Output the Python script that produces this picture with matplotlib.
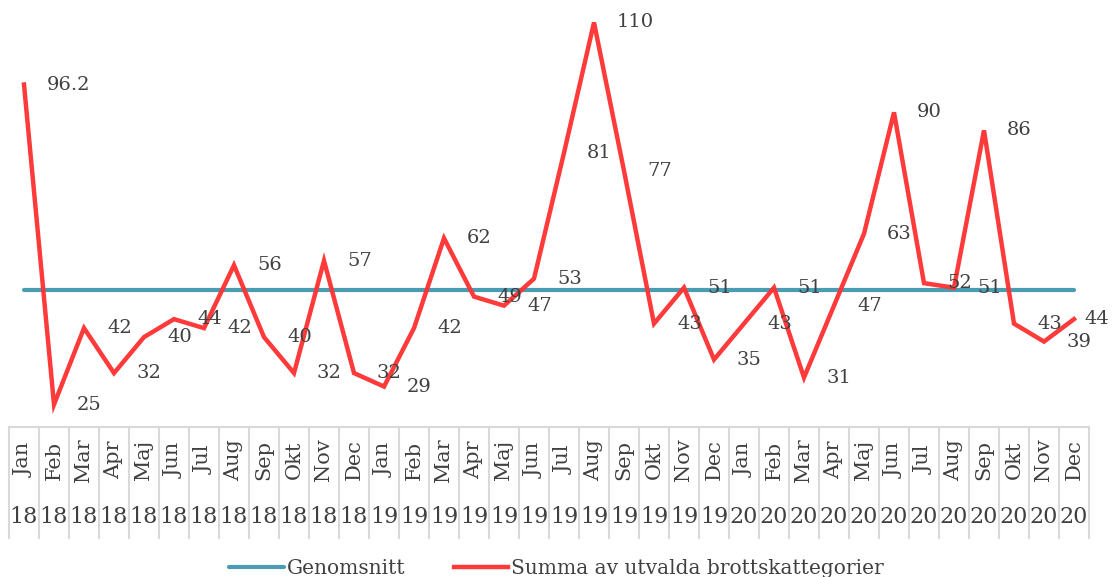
import matplotlib.pyplot as plt
import matplotlib.transforms as mtransforms

months = ["Jan", "Feb", "Mar", "Apr", "Maj", "Jun", "Jul", "Aug", "Sep", "Okt", "Nov", "Dec"] * 3
years = ["18"] * 12 + ["19"] * 12 + ["20"] * 12

summa = [96.2, 25, 42, 32, 40, 44, 42, 56, 40, 32, 57, 32,
         29, 42, 62, 49, 47, 53, 81, 110, 77, 43, 51, 35,
         43, 51, 31, 47, 63, 90, 52, 51, 86, 43, 39, 44]
genomsnitt = [50.4] * 36

plt.rcParams['font.family'] = ['DejaVu Serif']
txt_color = "#404040"
grid_color = "#D9D9D9"

fig = plt.figure(figsize=(11.13, 5.77), dpi=100)
W, H = 1113, 577
ax = fig.add_axes([9 / W, (H - 427) / H, (1089 - 9) / W, 427 / H])

x = list(range(len(summa)))
ax.plot(x, genomsnitt, color="#4A9CB2", lw=3, solid_capstyle="round", label="Genomsnitt")
ax.plot(x, summa, color="#FF3333", lw=3.2, alpha=0.97, solid_joinstyle="miter",
        label="Summa av utvalda brottskattegorier")

for i, (xi, v) in enumerate(zip(x, summa)):
    # last label is pulled in so it stays inside the picture, as in Excel
    dx = 10 if i == len(summa) - 1 else 23
    ax.annotate(f"{v:g}", (xi, v), xytext=(dx, 0), textcoords="offset pixels",
                ha="left", va="center", fontsize=14, color=txt_color)

ax.set_xlim(-0.5, len(summa) - 0.5)
ax.set_ylim(20, 115)
for s in ["left", "right", "top"]:
    ax.spines[s].set_visible(False)
ax.spines["bottom"].set_color(grid_color)
ax.spines["bottom"].set_linewidth(1.5)
ax.set_yticks([])
ax.set_xticks([])

# category table below the axis
trans = mtransforms.blended_transform_factory(ax.transData, ax.transAxes)
px = 1.0 / 427
for b in range(len(summa) + 1):
    ax.plot([b - 0.5, b - 0.5], [0, -111 * px], transform=trans, color=grid_color,
            lw=1.5, clip_on=False)
for xi, m, yr in zip(x, months, years):
    ax.text(xi, -33 * px, m, transform=trans, rotation=90, ha="center", va="center",
            fontsize=15, color=txt_color)
    ax.text(xi, -90 * px, yr, transform=trans, ha="center", va="center",
            fontsize=16, color=txt_color)

ax.legend(loc="center", bbox_to_anchor=(0.5, 8 / H), bbox_transform=fig.transFigure,
          ncol=2, frameon=False, fontsize=14.5, handlelength=2.7, handletextpad=0.15,
          columnspacing=2.4, labelcolor=txt_color)

fig.savefig("out.png", dpi=100)
